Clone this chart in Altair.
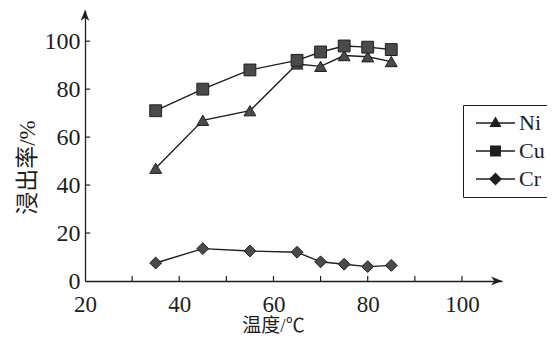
import altair as alt
import pandas as pd

# ---- data ----
temps = [35, 45, 55, 65, 70, 75, 80, 85]
ni = [47, 67, 71, 90.5, 89.5, 94, 93.5, 91.5]
cu = [71, 80, 88, 92, 95.5, 98, 97.5, 96.5]
cr = [7.5, 13.5, 12.5, 12, 8, 7, 6, 6.5]
series_names = ["Ni", "Cu", "Cr"]
x_label_values = [20, 40, 60, 80, 100]
x_tick_values = [30, 40, 50, 60, 70, 80, 90, 100]
y_label_values = [0, 20, 40, 60, 80, 100]
y_tick_values = [20, 40, 60, 80, 100]
x_title = "温度/℃"
y_title = "浸出率/%"
X_DOMAIN = [20, 108.5]
Y_DOMAIN = [0, 113]

rows = []
for name, vals in zip(series_names, [ni, cu, cr]):
    for t, v in zip(temps, vals):
        rows.append({"temp": t, "rate": v, "series": name, "key": name})
df = pd.DataFrame(rows)
xt = pd.DataFrame({"t": x_tick_values})
yt = pd.DataFrame({"t": y_tick_values})

INK = "#1e1e1e"
MARK_FILL = "#4a4a4a"
SERIF = "Liberation Serif"
CJK = "Liberation Serif, Noto Sans CJK SC"

xs = alt.Scale(domain=X_DOMAIN, nice=False, zero=False)
ys = alt.Scale(domain=Y_DOMAIN, nice=False, zero=False)

x_axis = alt.Axis(values=x_label_values, ticks=False, tickSize=0, grid=False,
                  domainColor=INK, domainWidth=1.3,
                  labelFont=SERIF, labelFontSize=23, labelColor=INK,
                  labelPadding=12, labelFlush=False, labelOverlap=False,
                  title=x_title, titleFont=CJK, titleFontSize=19,
                  titleFontWeight="normal", titleColor=INK,
                  titleX=188, titleY=35, titleBaseline="top")
y_axis = alt.Axis(values=y_label_values, ticks=False, tickSize=0, grid=False,
                  domainColor=INK, domainWidth=1.3,
                  labelFont=SERIF, labelFontSize=24, labelColor=INK,
                  labelPadding=5, labelOverlap=False,
                  title=y_title, titleFont=CJK, titleFontSize=23,
                  titleFontWeight="normal", titleColor=INK,
                  titleX=-46, titleY=157)

X = alt.X("temp:Q", scale=xs, axis=x_axis)
Y = alt.Y("rate:Q", scale=ys, axis=y_axis)

lines = alt.Chart(df).mark_line(color=INK, strokeWidth=1.4).encode(
    x=X, y=Y, detail="series:N")

points = alt.Chart(df).mark_point(
    filled=True, size=140, fill=MARK_FILL, stroke=INK, strokeWidth=1, opacity=1
).encode(
    x=X, y=Y,
    shape=alt.Shape("series:N",
                    scale=alt.Scale(domain=series_names,
                                    range=["triangle-up", "square", "diamond"]),
                    legend=None))

# legend symbols: a short line (thin filled bar) with the marker on it
BAR = "M-1,-0.04H1V0.04H-1Z"
legend_paths = [
    BAR + "M-0.31,0.2L0,-0.33L0.31,0.2Z",
    BAR + "M-0.28,-0.28H0.28V0.28H-0.28Z",
    BAR + "M-0.33,0L0,-0.33L0.33,0L0,0.33Z",
]
legend_layer = alt.Chart(df).transform_filter("datum.rate < 0").mark_point(
    filled=True, fill=INK, stroke=INK, strokeWidth=1.3, opacity=1
).encode(
    x=X, y=Y,
    shape=alt.Shape("key:N",
                    scale=alt.Scale(domain=series_names, range=legend_paths),
                    legend=alt.Legend(title=None, orient="none",
                                      legendX=378, legendY=95,
                                      symbolSize=1521, clipHeight=24,
                                      rowPadding=4, padding=6,
                                      symbolOffset=6, labelOffset=3,
                                      labelFont=SERIF, labelFontSize=22,
                                      labelColor=INK,
                                      symbolFillColor="#333333",
                                      symbolStrokeColor=INK,
                                      symbolStrokeWidth=1.3,
                                      symbolOpacity=1,
                                      strokeColor=INK)))

x_ticks = alt.Chart(xt).mark_rule(color=INK, strokeWidth=1.2).encode(
    x=alt.X("t:Q", scale=xs, axis=x_axis),
    y=alt.datum(0, scale=ys, axis=y_axis),
    y2=alt.datum(2.1))
y_ticks = alt.Chart(yt).mark_rule(color=INK, strokeWidth=1.2).encode(
    y=alt.Y("t:Q", scale=ys, axis=y_axis),
    x=alt.datum(X_DOMAIN[0], scale=xs, axis=x_axis),
    x2=alt.datum(X_DOMAIN[0] + 1.1))

arrow_up = alt.Chart(pd.DataFrame({"a": [X_DOMAIN[0]], "b": [Y_DOMAIN[1]]})).mark_point(
    shape="M0,0L-0.8,2L0,1.4L0.8,2Z", size=121, filled=True, color=INK, opacity=1
).encode(x=alt.X("a:Q", scale=xs, axis=x_axis), y=alt.Y("b:Q", scale=ys, axis=y_axis))
arrow_right = alt.Chart(pd.DataFrame({"a": [X_DOMAIN[1]], "b": [Y_DOMAIN[0]]})).mark_point(
    shape="M0,0L-2,-0.8L-1.4,0L-2,0.8Z", size=121, filled=True, color=INK, opacity=1
).encode(x=alt.X("a:Q", scale=xs, axis=x_axis), y=alt.Y("b:Q", scale=ys, axis=y_axis))

chart = alt.layer(
    lines, points, legend_layer, x_ticks, y_ticks, arrow_up, arrow_right
).resolve_scale(shape="independent").properties(
    width=417, height=271,
    autosize=alt.AutoSizeParams(type="none"),
    padding={"left": 77, "top": 2, "right": 45, "bottom": 53},
    background="white",
).configure_view(stroke=None)

chart.save("out.html", embed_options={"renderer": "svg", "actions": False})
